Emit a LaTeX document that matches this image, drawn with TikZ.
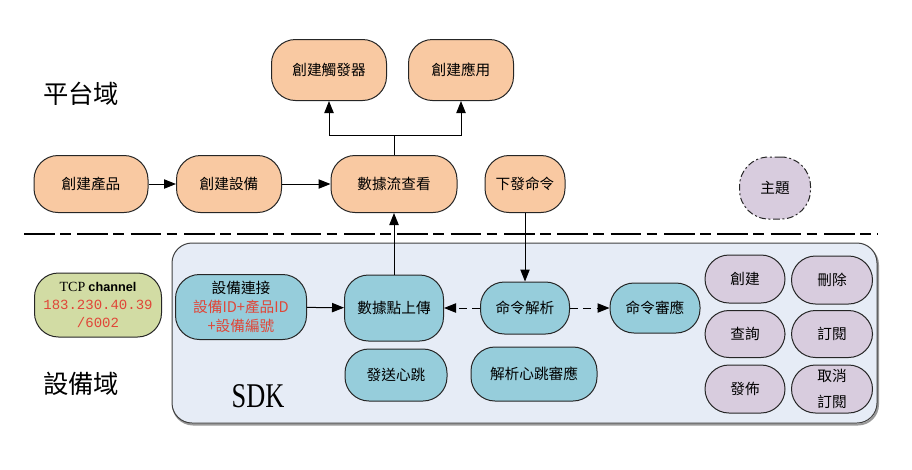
\documentclass[tikz,border=0pt]{standalone}
\usepackage{fontspec}
\usepackage{graphicx}
\setmainfont{Noto Sans CJK TC}
\newfontfamily\serifen{Liberation Serif}
\newfontfamily\monoen{Liberation Mono}
\newfontfamily\sansen{Liberation Sans}
\usetikzlibrary{arrows.meta}
\definecolor{peach}{HTML}{F9C9A2}
\definecolor{skyb}{HTML}{96CDDB}
\definecolor{lav}{HTML}{D8CCDE}
\definecolor{olive}{HTML}{D2DCA4}
\definecolor{panel}{HTML}{E6ECF6}
\definecolor{redtxt}{HTML}{E04638}
\begin{document}
\begin{tikzpicture}[x=0.75pt,y=-0.75pt,
  base/.style={draw=black!85, line width=0.75pt, rounded corners=18pt, inner sep=0pt, align=center,
    font=\fontsize{11pt}{14pt}\selectfont},
  sz/.style 2 args={minimum width=#1*0.75pt, minimum height=#2*0.75pt},
  orng/.style={base, fill=peach},
  blu/.style={base, fill=skyb},
  lavb/.style={base, fill=lav},
  arr/.style={-{Triangle[length=9pt,width=7pt]}, line width=0.75pt},
  lbl/.style={font=\fontsize{19pt}{22pt}\selectfont}
]
\useasboundingbox (0,0) rectangle (912,469);

% labels
\node[lbl] (plat) at (81,94) {平台域};
\node[lbl] (dev) at (81,384) {設備域};

% separator
\coordinate (sepL) at (24,234);
\coordinate (sepR) at (878,234);
\draw[line width=1.2pt, dash pattern=on 23pt off 4pt on 8pt off 5pt] (sepL) -- (sepR);

% SDK panel
\draw[gray!80, line width=1.5pt, rounded corners=15pt] (173,245) rectangle (878,424.5);
\draw[draw=black!75, fill=panel, line width=0.75pt, rounded corners=15pt] (172,243) rectangle (877,423);
\node (sdk) at (258,396) {\scalebox{0.76}[1]{\serifen\fontsize{26pt}{30pt}\selectfont SDK}};

% platform nodes
\node[orng, sz={114}{57}] (prod) at (91,184) {創建產品};
\node[orng, sz={105}{57}] (devc) at (229,184) {創建設備};
\node[orng, sz={126}{57}] (flow) at (394,184) {數據流查看};
\node[orng, sz={115}{61}] (trig) at (329,70) {創建觸發器};
\node[orng, sz={105}{61}] (app) at (461,70) {創建應用};
\node[orng, sz={80}{57}] (cmd) at (525,184) {下發命令};
\node[lavb, sz={71}{62}, dash pattern=on 5pt off 2pt on 1.5pt off 2pt, rounded corners=22pt] (topic) at (775,188) {主題};

% device nodes
\node[base, fill=olive, sz={127}{64}, font=\fontsize{10.5pt}{13.5pt}\selectfont] (tcp) at (98,305)
  {{\serifen TCP} {\sansen\bfseries\fontsize{9.5pt}{13pt}\selectfont channel}\\
   {\monoen\color{redtxt}183.230.40.39}\\
   {\monoen\color{redtxt}/6002}};
\node[blu, sz={131}{65}, font=\fontsize{11pt}{14pt}\selectfont] (conn) at (241,307)
  {設備連接\\ \textcolor{redtxt}{設備ID+產品ID}\\ \textcolor{redtxt}{+設備編號}};
\node[blu, sz={99}{66}] (upload) at (394,308) {數據點上傳};
\node[blu, sz={89}{52}] (parse) at (525,308) {命令解析};
\node[blu, sz={90}{50}] (resp) at (655,308) {命令審應};
\node[blu, sz={102}{52}] (beat) at (396,375) {發送心跳};
\node[blu, sz={126}{54}] (beatr) at (534,374) {解析心跳審應};

\node[lavb, sz={80}{48}] (create) at (745,279) {創建};
\node[lavb, sz={81}{48}] (del) at (832,280) {刪除};
\node[lavb, sz={80}{47}] (query) at (745,334) {查詢};
\node[lavb, sz={81}{47}] (sub) at (832,334) {訂閱};
\node[lavb, sz={80}{48}] (pub) at (745,389) {發佈};
\node[lavb, sz={81}{48}, font=\fontsize{11pt}{19pt}\selectfont] (unsub) at (832,389) {取消\\訂閱};

% connectors
\draw[arr] (prod) -- (devc);
\draw[arr] (devc) -- (flow);
\coordinate (fork) at (394,135);
\draw[line width=0.75pt] (flow.north) -- (fork);
\draw[arr] (fork) -| (trig.south);
\draw[arr] (fork) -| (app.south);
\draw[arr] (upload.north) -- (flow.south);
\draw[arr] (cmd.south) -- (parse.north);
\draw[arr] (conn) -- (upload);
\draw[arr, dash pattern=on 6pt off 4pt] (parse.west) -- (upload.east);
\draw[arr, dash pattern=on 6pt off 4pt] (parse.east) -- (resp.west);
\end{tikzpicture}
\end{document}
